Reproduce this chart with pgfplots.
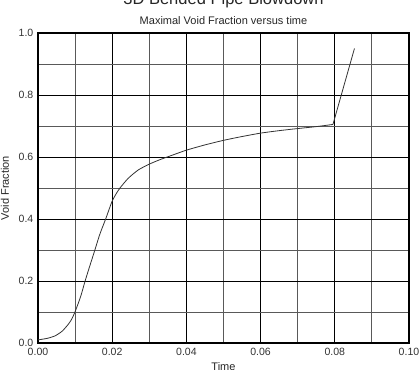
\documentclass[border=0pt]{standalone}
\usepackage{pgfplots}
\pgfplotsset{compat=1.18}
\usepackage{fontspec}
\setmainfont{Liberation Sans}
\begin{document}
\begin{tikzpicture}
\begin{axis}[
  at={(0,0)}, anchor=south west,
  scale only axis,
  width=278.25pt, height=232.5pt,
  xmin=0, xmax=0.1, ymin=0, ymax=1,
  xtick={0,0.02,0.04,0.06,0.08,0.1},
  ytick={0,0.2,0.4,0.6,0.8,1},
  minor x tick num=1, minor y tick num=1,
  grid=both,
  major grid style={black, line width=0.6pt},
  minor grid style={black!65, line width=0.6pt},
  major tick length=0pt, minor tick length=0pt,
  axis line style={black, line width=0.9pt},
  tick label style={font=\fontsize{7.9}{9}\selectfont, text=black!80},
  /pgf/number format/assume math mode=true,
  xticklabel style={/pgf/number format/.cd, fixed, fixed zerofill, precision=2},
  yticklabel style={/pgf/number format/.cd, fixed, fixed zerofill, precision=1},
  scaled x ticks=false, scaled y ticks=false,
  clip=false,
]
\addplot[black!80, line width=0.6pt, smooth, tension=0.4] coordinates {
(0,0.010) (0.0025,0.015) (0.0046,0.023) (0.0065,0.038) (0.0080,0.058)
(0.0090,0.075) (0.0100,0.101) (0.0115,0.150) (0.0127,0.200) (0.0140,0.250)
(0.0152,0.295) (0.0165,0.345) (0.0172,0.368) (0.0183,0.402) (0.0199,0.455)
(0.0210,0.480) (0.0221,0.500) (0.0243,0.531) (0.0270,0.558) (0.0300,0.577)
(0.0330,0.592) (0.0360,0.605) (0.0400,0.622) (0.0450,0.639) (0.0501,0.654)
(0.0550,0.666) (0.0600,0.677) (0.0650,0.685) (0.0702,0.692) (0.0750,0.698)
(0.0795,0.705)
};
\addplot[black!80, line width=0.6pt] coordinates {
(0.0795,0.705) (0.0853,0.950)
};
\node[anchor=base, font=\fontsize{12.4}{14}\selectfont, text=black!85] at (rel axis cs:0.5,1.0935) {3D Bended Pipe Blowdown};
\node[anchor=base, font=\fontsize{8.25}{10}\selectfont, text=black!85] at (rel axis cs:0.5,1.029) {Maximal Void Fraction versus time};
\node[anchor=base, font=\fontsize{8.25}{10}\selectfont, text=black!85] at (rel axis cs:0.5,-0.0887) {Time};
\node[rotate=90, font=\fontsize{8.25}{10}\selectfont, text=black!85] at (rel axis cs:-0.089,0.5) {Void Fraction};
\end{axis}
\pgfresetboundingbox
\path[use as bounding box] (-28.5pt,-20.25pt) rectangle (285.75pt,257.25pt);
\end{tikzpicture}
\end{document}
